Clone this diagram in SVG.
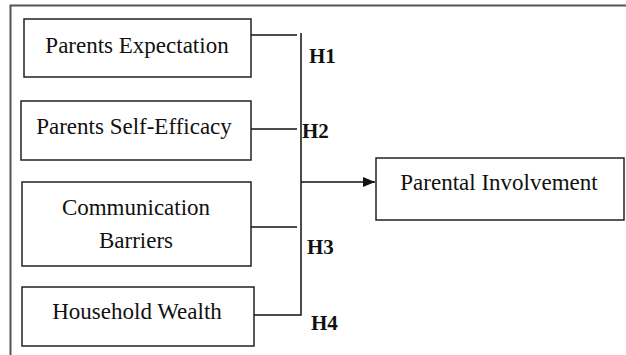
<svg xmlns="http://www.w3.org/2000/svg" width="626" height="355" viewBox="0 0 626 355">
<defs>
<style>
.box{fill:#fff;stroke:#222;stroke-width:1.5}
.t{font-family:"Liberation Serif","Times New Roman",serif;font-size:23px;fill:#111;text-anchor:middle}
.h{font-family:"Liberation Serif","Times New Roman",serif;font-size:21px;font-weight:bold;fill:#111}
.c{fill:none;stroke:#111;stroke-width:1.5}
</style>
<marker id="ah" markerWidth="12" markerHeight="10" refX="12" refY="5" orient="auto" markerUnits="userSpaceOnUse">
<path d="M0,0 L12,5 L0,10 Z" fill="#111"/>
</marker>
</defs>
<rect width="626" height="355" fill="#fff"/>
<g id="frame">
<path d="M10.5,355 V5.5 H626" fill="none" stroke="#555" stroke-width="2"/>
</g>
<g id="n1"><rect class="box" x="24" y="19" width="227" height="58"/><text class="t" x="137" y="53">Parents Expectation</text></g>
<g id="n2"><rect class="box" x="21" y="101" width="230" height="59"/><text class="t" x="134" y="134">Parents Self-Efficacy</text></g>
<g id="n3"><rect class="box" x="22" y="182" width="229" height="84"/><text class="t" x="136" y="215">Communication</text><text class="t" x="136" y="248">Barriers</text></g>
<g id="n4"><rect class="box" x="22" y="287" width="232" height="59"/><text class="t" x="137" y="319">Household Wealth</text></g>
<g id="n5"><rect class="box" x="376" y="158" width="248" height="62"/><text class="t" x="499" y="190">Parental Involvement</text></g>
<g id="connectors">
<path class="c" d="M251,35 H297"/>
<path class="c" d="M251,129 H297"/>
<path class="c" d="M251,227 H297"/>
<path class="c" d="M254,315 H301 V33"/>
<path class="c" d="M301,182 H375" marker-end="url(#ah)"/>
<text class="h" x="309" y="63">H1</text>
<text class="h" x="302" y="138">H2</text>
<text class="h" x="307" y="254">H3</text>
<text class="h" x="311" y="330">H4</text>
</g>
</svg>
